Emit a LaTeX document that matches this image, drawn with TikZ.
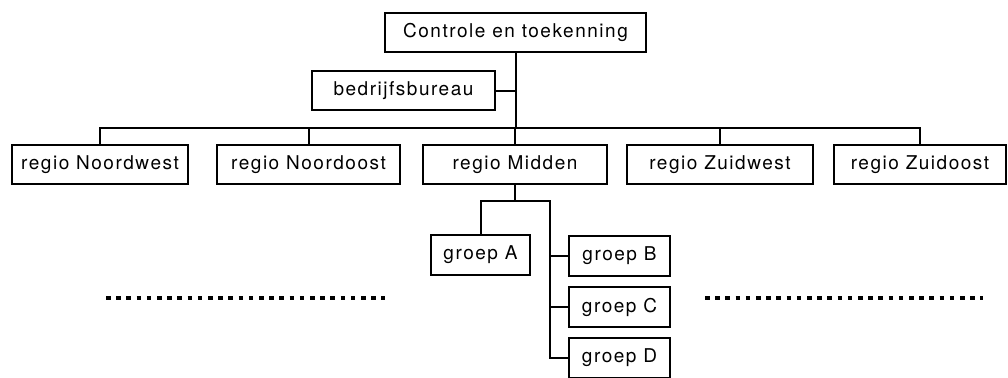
\documentclass[tikz,border=0pt]{standalone}
\usepackage{fontspec}
\setmainfont[LetterSpace=8]{TeX Gyre Heros}
\usepackage{tikz}
\usetikzlibrary{positioning}
\usetikzlibrary{calc}

\begin{document}
\begin{tikzpicture}[x=0.5pt, y=-0.5pt, font=\fontsize{9.5}{11}\selectfont,
	box/.style={draw, line width=1pt, minimum height=19.5pt, inner sep=0pt},
	link/.style={line width=1pt},
	dots/.style={line width=2.25pt, dash pattern=on 2.25pt off 2.85pt}]
	\useasboundingbox (0,0) rectangle (1008,377);

%top
	\node[box, minimum width=130.5pt] (top) at (515.5, 32.5) {Controle en toekenning};
	\node[box, minimum width=91.5pt] (bureau) at (403.5, 90.5) {bedrijfsbureau};

%regio's
	\foreach \x/\w/\name/\txt in {100/88/nw/regio Noordwest, 308.5/91.5/no/regio Noordoost, 515/92/mid/regio Midden, 720/93/zw/regio Zuidwest, 920/86/zo/regio Zuidoost}{
		\node[box, minimum width=\w pt] (\name) at (\x, 164.5) {\txt};
	}

%groepen
	\node[box, minimum width=49.5pt, minimum height=20pt] (gA) at (480.5, 255) {groep A};
	\foreach \y/\name/\txt in {256/gB/groep B, 307/gC/groep C, 357.5/gD/groep D}{
		\node[box, minimum width=50.5pt, minimum height=20pt] (\name) at (619.5, \y) {\txt};
	}

%lines
	\coordinate (bar) at (0, 128);
	\coordinate (fork) at (550, 201);

	\draw[link] (top.south) -- (top.south |- bar);
	\draw[link] (bureau.east) -- (bureau.east -| top.south);
	\draw[link] (nw.north) -- (nw.north |- bar) -- (zo.north |- bar) -- (zo.north);
	\foreach \name in {no, mid, zw}{
		\draw[link] (\name.north) -- (\name.north |- bar);
	}

	\draw[link] (mid.south) -- (mid.south |- fork);
	\draw[link] (gA.north) |- (fork) -- (fork |- gD.west) -- (gD.west);
	\foreach \name in {gB, gC}{
		\draw[link] (\name.west) -- (\name.west -| fork);
	}

%dots
	\draw[dots] (106, 298) -- (385, 298);
	\draw[dots] (705, 298) -- (983, 298);

\end{tikzpicture}
\end{document}
